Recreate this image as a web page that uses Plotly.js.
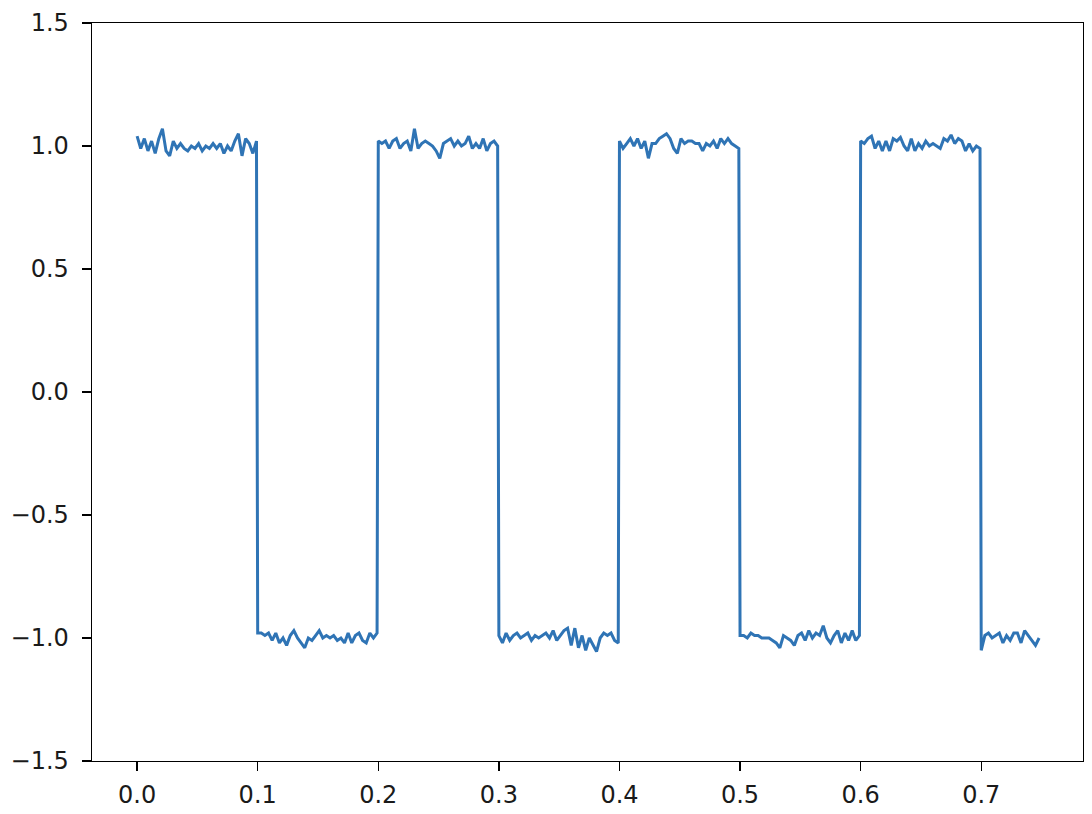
<!DOCTYPE html>
<html>
<head>
<meta charset="utf-8">
<script src="https://cdn.plot.ly/plotly-3.0.1.min.js"></script>
<style>
  html, body { margin: 0; padding: 0; background: #ffffff; }
  #chart { width: 1092px; height: 814px; }
</style>
</head>
<body>
<div id="chart"></div>
<script>
// Sampling step (s) and start time of each plateau segment
const sampleStep = 0.003;
const segmentStarts = [0.0, 0.1, 0.2, 0.3, 0.4, 0.5, 0.6, 0.7];

// Signal values, one array per plateau
const seg1 = [1.04, 0.99, 1.03, 0.98, 1.02, 0.97, 1.03, 1.07, 0.98, 0.96, 1.02, 0.99, 1.01, 0.99, 0.98, 1.00, 0.99,
              1.01, 0.98, 1.00, 0.99, 1.01, 0.99, 1.01, 0.97, 1.00, 0.98, 1.02, 1.05, 0.96, 1.03, 1.01, 0.97, 1.02];
const seg2 = [-0.98, -0.98, -0.99, -0.98, -1.01, -0.98, -1.02, -1.00, -1.03, -0.99, -0.97, -1.00, -1.02, -1.04, -1.00, -1.01, -0.99,
              -0.97, -1.00, -0.99, -1.00, -0.99, -1.01, -1.00, -1.02, -0.98, -1.02, -0.99, -0.98, -1.01, -1.02, -0.98, -1.00, -0.98];
const seg3 = [1.02, 1.01, 1.02, 0.99, 1.02, 1.03, 0.99, 1.01, 1.02, 0.98, 1.07, 0.99, 1.01, 1.02, 1.01, 1.00, 0.98,
              0.95, 1.01, 1.02, 1.03, 1.00, 1.02, 1.00, 1.01, 1.04, 0.99, 1.01, 0.99, 1.03, 0.98, 1.01, 1.02, 1.00];
const seg4 = [-0.99, -1.02, -0.98, -1.01, -0.99, -0.98, -1.00, -0.99, -0.98, -1.01, -0.99, -1.00, -0.99, -0.98, -1.00, -0.97, -1.01,
              -0.99, -0.97, -0.96, -1.03, -0.96, -1.04, -0.99, -1.05, -1.00, -1.03, -1.055, -1.00, -0.98, -0.99, -0.98, -1.01, -1.02];
const seg5 = [1.02, 0.99, 1.01, 1.03, 1.00, 1.03, 0.99, 1.02, 0.95, 1.01, 1.01, 1.03, 1.04, 1.05, 1.03, 0.99, 0.97,
              1.03, 1.01, 1.02, 1.02, 1.01, 1.01, 0.98, 1.01, 1.00, 1.02, 0.99, 1.03, 1.01, 1.03, 1.01, 1.00, 0.99];
const seg6 = [-0.99, -0.99, -1.00, -0.98, -0.99, -0.99, -1.00, -1.00, -1.00, -1.01, -1.02, -1.04, -0.99, -1.00, -1.01, -1.03, -0.99,
              -0.98, -1.01, -0.97, -1.00, -0.98, -0.99, -0.95, -1.00, -1.02, -0.99, -0.97, -1.02, -0.98, -1.01, -0.97, -1.01, -0.99];
const seg7 = [1.02, 1.01, 1.03, 1.04, 0.99, 1.02, 0.98, 1.02, 0.98, 1.03, 1.02, 1.035, 1.00, 0.98, 1.03, 0.98, 1.01,
              0.99, 1.02, 1.00, 1.01, 1.00, 0.99, 1.03, 1.02, 1.045, 1.01, 1.03, 1.02, 0.98, 1.01, 0.98, 1.00, 0.99];
const seg8 = [-1.05, -0.99, -0.98, -1.00, -0.99, -0.98, -1.02, -0.99, -1.01, -0.98, -0.98, -1.02, -0.97, -0.99, -1.01, -1.03, -1.00];

const segments = [seg1, seg2, seg3, seg4, seg5, seg6, seg7, seg8];

// Axis tick labels
const xTickVals = [0.0, 0.1, 0.2, 0.3, 0.4, 0.5, 0.6, 0.7];
const yTickVals = [-1.5, -1.0, -0.5, 0.0, 0.5, 1.0, 1.5];

const t = [];
const y = [];
segments.forEach((seg, s) => {
  seg.forEach((v, i) => {
    t.push(+(segmentStarts[s] + i * sampleStep).toFixed(4));
    y.push(v);
  });
});

const trace = {
  x: t, y: y, type: 'scatter', mode: 'lines',
  line: { color: '#2f74b5', width: 3 },
  hoverinfo: 'skip'
};

const axisCommon = {
  showgrid: false, zeroline: false,
  showline: true, mirror: true, linecolor: '#000000', linewidth: 1.4,
  ticks: 'outside', ticklen: 9, tickwidth: 1.4, tickcolor: '#000000',
  tickfont: { family: 'DejaVu Sans, sans-serif', size: 24, color: '#1a1a1a' },
  tickformat: '.1f'
};

const layout = {
  width: 1092, height: 814,
  margin: { l: 92, r: 9, t: 23, b: 53, pad: 0 },
  paper_bgcolor: '#ffffff', plot_bgcolor: '#ffffff',
  showlegend: false,
  xaxis: Object.assign({}, axisCommon, {
    range: [-0.0374, 0.7844], tickmode: 'array', tickvals: xTickVals, ticklabelstandoff: 3
  }),
  yaxis: Object.assign({}, axisCommon, {
    range: [-1.5, 1.5], tickmode: 'array', tickvals: yTickVals, ticklabelstandoff: 8
  })
};

Plotly.newPlot('chart', [trace], layout, { displayModeBar: false, staticPlot: true });
</script>
</body>
</html>
